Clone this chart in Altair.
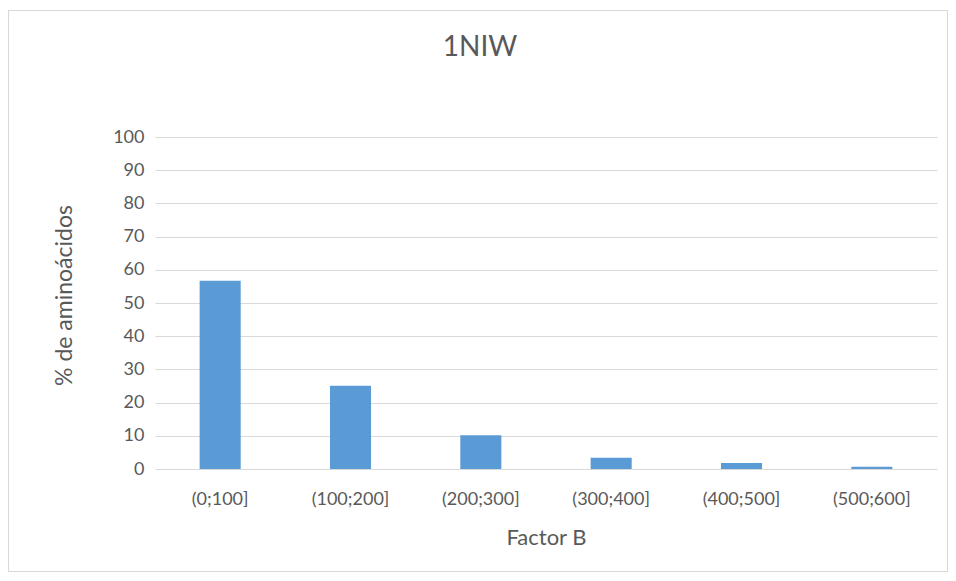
import altair as alt
import pandas as pd

categories = ["(0;100]", "(100;200]", "(200;300]", "(300;400]", "(400;500]", "(500;600]"]
values = [56.7, 25.1, 10.2, 3.4, 1.8, 0.7]
y_ticks = [0, 10, 20, 30, 40, 50, 60, 70, 80, 90, 100]

df = pd.DataFrame({"cat": categories, "val": values})

FONT = "Lato"
GRAY = "#595959"

bars = alt.Chart(df).mark_bar(color="#5B9BD5").encode(
    x=alt.X("cat:N", sort=categories,
            scale=alt.Scale(paddingInner=0.685, paddingOuter=0.3425),
            axis=alt.Axis(title="Factor B", labelAngle=0, domain=False, ticks=False,
                          labelPadding=21, titlePadding=19, labelFontSize=18,
                          titleFontSize=22, labelColor=GRAY, titleColor=GRAY,
                          labelFont=FONT, titleFont=FONT, titleFontWeight="normal")),
    y=alt.Y("val:Q", scale=alt.Scale(domain=[0, 100], nice=False),
            axis=alt.Axis(title="% de aminoácidos", values=y_ticks, domain=False, ticks=False,
                          grid=True, gridColor="#D9D9D9", labelPadding=11, titlePadding=36,
                          titleY=158,
                          labelFontSize=18, titleFontSize=23, labelColor=GRAY, titleColor=GRAY,
                          labelFont=FONT, titleFont=FONT, titleFontWeight="normal")),
)

border = alt.Chart(df).mark_rect(fill=None, stroke="#D9D9D9", strokeWidth=1).encode(
    x=alt.value(-146.5), x2=alt.value(792.5), y=alt.value(-126.5), y2=alt.value(434.5)
)

chart = alt.layer(border, bars).properties(
    width=782, height=332,
    title=alt.TitleParams("1NIW", fontSize=28, font=FONT, color=GRAY,
                          fontWeight="normal", anchor="middle", offset=-52, dx=-66),
    autosize=alt.AutoSizeParams(type="none"),
    padding={"left": 147, "top": 129, "right": 11, "bottom": 104},
).configure_view(stroke=None)

chart.save("out.html", embed_options={"renderer": "svg", "actions": False})
